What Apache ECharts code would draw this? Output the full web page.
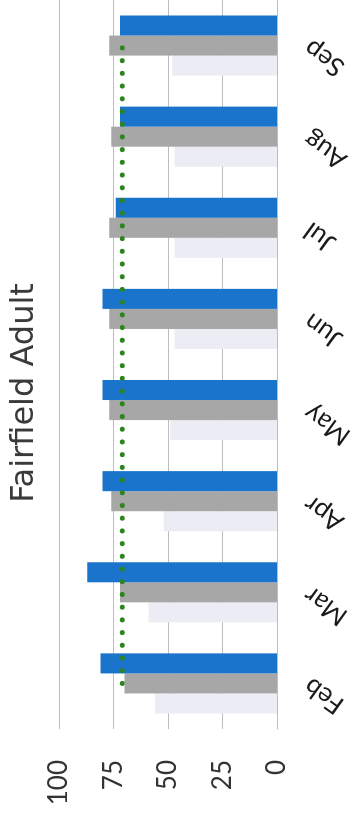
<!DOCTYPE html>
<html>
<head>
<meta charset="utf-8">
<script src="https://cdn.jsdelivr.net/npm/echarts@6/dist/echarts.min.js"></script>
<style>
  html, body { margin: 0; padding: 0; background: #ffffff; overflow: hidden; }
  #page { position: relative; width: 361px; height: 821px; overflow: hidden; }
  /* The chart is laid out in landscape and turned a quarter turn counter-clockwise */
  #chart {
    position: absolute; left: 0; top: 0;
    width: 821px; height: 361px;
    transform-origin: 0 0;
    transform: translate(0px, 821px) rotate(-90deg);
  }
</style>
</head>
<body>
<div id="page"><div id="chart"></div></div>
<script>
const titleText = 'Fairfield Adult';
const months = ['Feb', 'Mar', 'Apr', 'May', 'Jun', 'Jul', 'Aug', 'Sep'];
const valueTicks = [0, 25, 50, 75, 100];

// Three yearly series per month plus the target level
const seriesLight = [56, 59, 52, 49, 47, 47, 47, 48];
const seriesGray  = [70, 72, 76, 77, 77, 77, 76, 77];
const seriesBlue  = [81, 87, 80, 80, 80, 74, 72, 72];
const targetLine  = [71, 71, 71, 71, 71, 71, 71, 71];

const FONT = 'Lato, "Open Sans", sans-serif';

const chart = echarts.init(document.getElementById('chart'), null, { renderer: 'canvas' });

chart.setOption({
  animation: false,
  backgroundColor: '#ffffff',
  title: {
    text: titleText,
    left: 423,
    top: 4,
    textAlign: 'center',
    textStyle: { fontFamily: '"DejaVu Sans", sans-serif', fontSize: 32, fontWeight: 'normal', color: '#3a3a3a' }
  },
  grid: { left: 92, width: 731, top: 59, height: 218, containLabel: false },
  xAxis: {
    type: 'category',
    data: months,
    axisLine: { show: true, lineStyle: { color: '#bdbdbd', width: 1 } },
    axisTick: { show: false },
    axisLabel: {
      rotate: 54,
      margin: 30,
      fontFamily: FONT,
      fontSize: 26,
      color: '#1a1a1a'
    }
  },
  yAxis: {
    type: 'value',
    min: valueTicks[0],
    max: valueTicks[valueTicks.length - 1],
    interval: 25,
    axisLine: { show: false },
    axisTick: { show: false },
    splitLine: { show: true, lineStyle: { color: '#bdbdbd', width: 1 } },
    axisLabel: { margin: 31, fontFamily: FONT, fontSize: 26, color: '#333333' }
  },
  series: [
    {
      type: 'bar', data: seriesLight, barGap: '0%', barCategoryGap: '34%',
      itemStyle: { color: '#ececf5' }
    },
    {
      type: 'bar', data: seriesGray, barGap: '0%', barCategoryGap: '34%',
      itemStyle: { color: '#a7a7a7' }
    },
    {
      type: 'bar', data: seriesBlue, barGap: '0%', barCategoryGap: '34%',
      itemStyle: { color: '#1b74cb' }
    },
    {
      type: 'line', data: targetLine, z: 5,
      symbol: 'none',
      lineStyle: { color: '#2c851c', width: 5, type: [0.01, 12.7], cap: 'round' }
    }
  ]
});
</script>
</body>
</html>
